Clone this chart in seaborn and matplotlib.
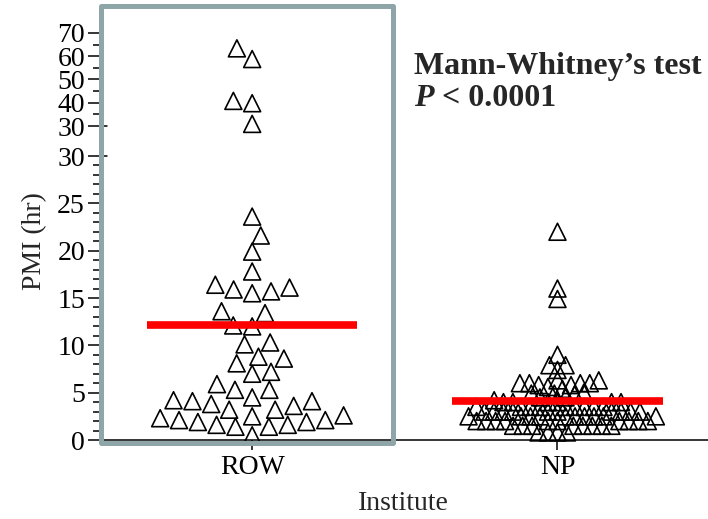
import matplotlib
matplotlib.use("Agg")
import matplotlib.pyplot as plt
from matplotlib.patches import Rectangle
from matplotlib.ticker import MultipleLocator
import pandas as pd
import seaborn as sns

# values
institutes = ["ROW", "NP"]
row_pmi = [63.4, 58.8, 40.8, 39.8, 30.9, 23.6, 21.6, 19.9, 17.8, 16.4, 16.1,
           15.9, 15.7, 15.5, 13.6, 13.4, 12.1, 12.0, 10.3, 10.1, 8.8, 8.6, 8.1,
           7.2, 7.0, 5.9, 5.3, 5.3, 4.5, 4.2, 4.1, 4.1, 3.8, 3.6, 3.2, 3.2, 2.6,
           2.5, 2.3, 2.1, 2.1, 1.9, 1.9, 1.6, 1.6, 1.4, 1.4, 0.5]
np_pmi = [22.0, 16.0, 14.9, 9.0, 7.9, 7.9, 7.4, 6.3, 6.3, 6.0, 6.0, 6.0, 6.0,
          5.8, 5.8, 5.6, 5.4, 5.0, 4.9, 4.9, 4.8, 4.5, 4.5, 4.2, 4.0,
          4.0, 4.0, 4.0, 4.0, 4.0, 3.5, 3.5, 3.5, 3.5, 3.5, 3.5, 3.5, 3.5, 3.5,
          3.0, 3.0, 3.0, 3.0, 3.0, 3.0, 3.0, 3.0, 3.0, 3.0,
          2.5, 2.5, 2.5, 2.5, 2.5, 2.5, 2.5, 2.5, 2.5, 2.5,
          2.0, 2.0, 2.0, 2.0, 2.0, 2.0, 2.0, 2.0, 2.0, 2.0,
          1.5, 1.5, 1.5, 1.5, 1.5, 1.5, 1.5, 1.5, 0.8, 0.8, 0.8, 0.8]
mean_pmi = [12.2, 4.1]

lower_ticks = [0, 5, 10, 15, 20, 25, 30]
upper_ticks = [30, 40, 50, 60, 70]
test_name = "Mann-Whitney\u2019s test"
p_text = " < 0.0001"

sns.set_theme(style="ticks")
plt.rcParams["font.family"] = ["Liberation Serif", "DejaVu Serif"]

df = pd.DataFrame({
    "Institute": ["ROW"] * len(row_pmi) + ["NP"] * len(np_pmi),
    "PMI": row_pmi + np_pmi,
})

W, H = 708, 519
fig = plt.figure(figsize=(W / 100, H / 100), dpi=100)
fig.patch.set_facecolor("white")

# broken y axis: lower part 0-30, upper part 30-70
ax_lo = fig.add_axes([99.5 / W, (H - 440) / H, 1 - 99.5 / W, 284 / H])
ax_hi = fig.add_axes([99.5 / W, (H - 126) / H, 1 - 99.5 / W, 93 / H])

# swarm spacing is computed with a smaller marker, then markers get enlarged
swarm_size = {"ROW": 13, "NP": 6.5}
for ax, lo, hi in [(ax_lo, 0, 30), (ax_hi, 30, 70)]:
    part = df[(df["PMI"] > lo) & (df["PMI"] <= hi)]
    for inst in institutes:
        sub = part[part["Institute"] == inst]
        if len(sub) == 0:
            continue
        sns.swarmplot(data=sub, x="Institute", y="PMI", order=institutes,
                      ax=ax, marker="^", size=swarm_size[inst],
                      color="black", warn_thresh=1)
    ax.set_xlim(-0.5, 1.493)
    ax.set_ylim(lo, hi)

fig.canvas.draw()
for ax in (ax_lo, ax_hi):
    for pts in list(ax.collections):
        if len(pts.get_offsets()) == 0:
            pts.remove()
            continue
        if "draw" in vars(pts):
            del pts.draw
        pts.set_sizes([12.2 ** 2])
        pts.set_facecolor("none")
        pts.set_edgecolor("black")
        pts.set_linewidth(1.2)
        pts.set_clip_on(False)

# mean bars
for i, m in enumerate(mean_pmi):
    ax_lo.hlines(m, i - 0.345, i + 0.345, color="#ff0000", lw=5.5, zorder=5)

for ax in (ax_lo, ax_hi):
    for side in ["top", "right"]:
        ax.spines[side].set_visible(False)
    ax.spines["left"].set_linewidth(1.1)
    ax.spines["left"].set_color("black")
    ax.tick_params(axis="y", which="major", length=9, width=1.1, pad=1.5,
                   labelsize=20, colors="black")
    ax.tick_params(axis="y", which="minor", length=5, width=1.1, colors="black")
    ax.set_ylabel("")
    ax.set_xlabel("")

ax_lo.set_yticks(lower_ticks)
ax_lo.yaxis.set_minor_locator(MultipleLocator(1))
ax_lo.spines["bottom"].set_linewidth(1.1)
ax_lo.spines["bottom"].set_color("black")
ax_lo.tick_params(axis="x", length=7, width=1.1, pad=4, labelsize=20,
                  colors="black")
ax_lo.set_xlabel("Institute", fontsize=20, labelpad=8)

ax_hi.set_yticks(upper_ticks)
ax_hi.yaxis.set_minor_locator(MultipleLocator(5))
ax_hi.spines["bottom"].set_visible(False)
ax_hi.tick_params(axis="x", bottom=False, labelbottom=False)

# break marks: the two 30 ticks cross the axis line
for ax, y in [(ax_lo, 30), (ax_hi, 30)]:
    ax.plot([0, 0.013], [y, y], transform=ax.get_yaxis_transform(),
            color="black", lw=1.1, clip_on=False)

fig.text(35 / W, 1 - 241 / H, "PMI (hr)", rotation=90, fontsize=20,
         ha="center", va="center")

# highlight box around ROW
fig.patches.append(Rectangle((101 / W, (H - 442.5) / H), 291.5 / W, 437 / H,
                             transform=fig.transFigure, fill=False,
                             edgecolor="#8fa6a8", lw=3.6, joinstyle="round",
                             zorder=6))

fig.text(414 / W, 1 - 74 / H, test_name, fontsize=23, fontweight="bold",
         ha="left", va="baseline")
p_label = fig.text(414 / W, 1 - 106 / H, "P", fontsize=23, fontweight="bold",
                   fontstyle="italic", ha="left", va="baseline")
fig.canvas.draw()
p_right = p_label.get_window_extent().x1
fig.text(p_right / W, 1 - 106 / H, p_text, fontsize=23, fontweight="bold",
         ha="left", va="baseline")

fig.savefig("out.png", dpi=100)
